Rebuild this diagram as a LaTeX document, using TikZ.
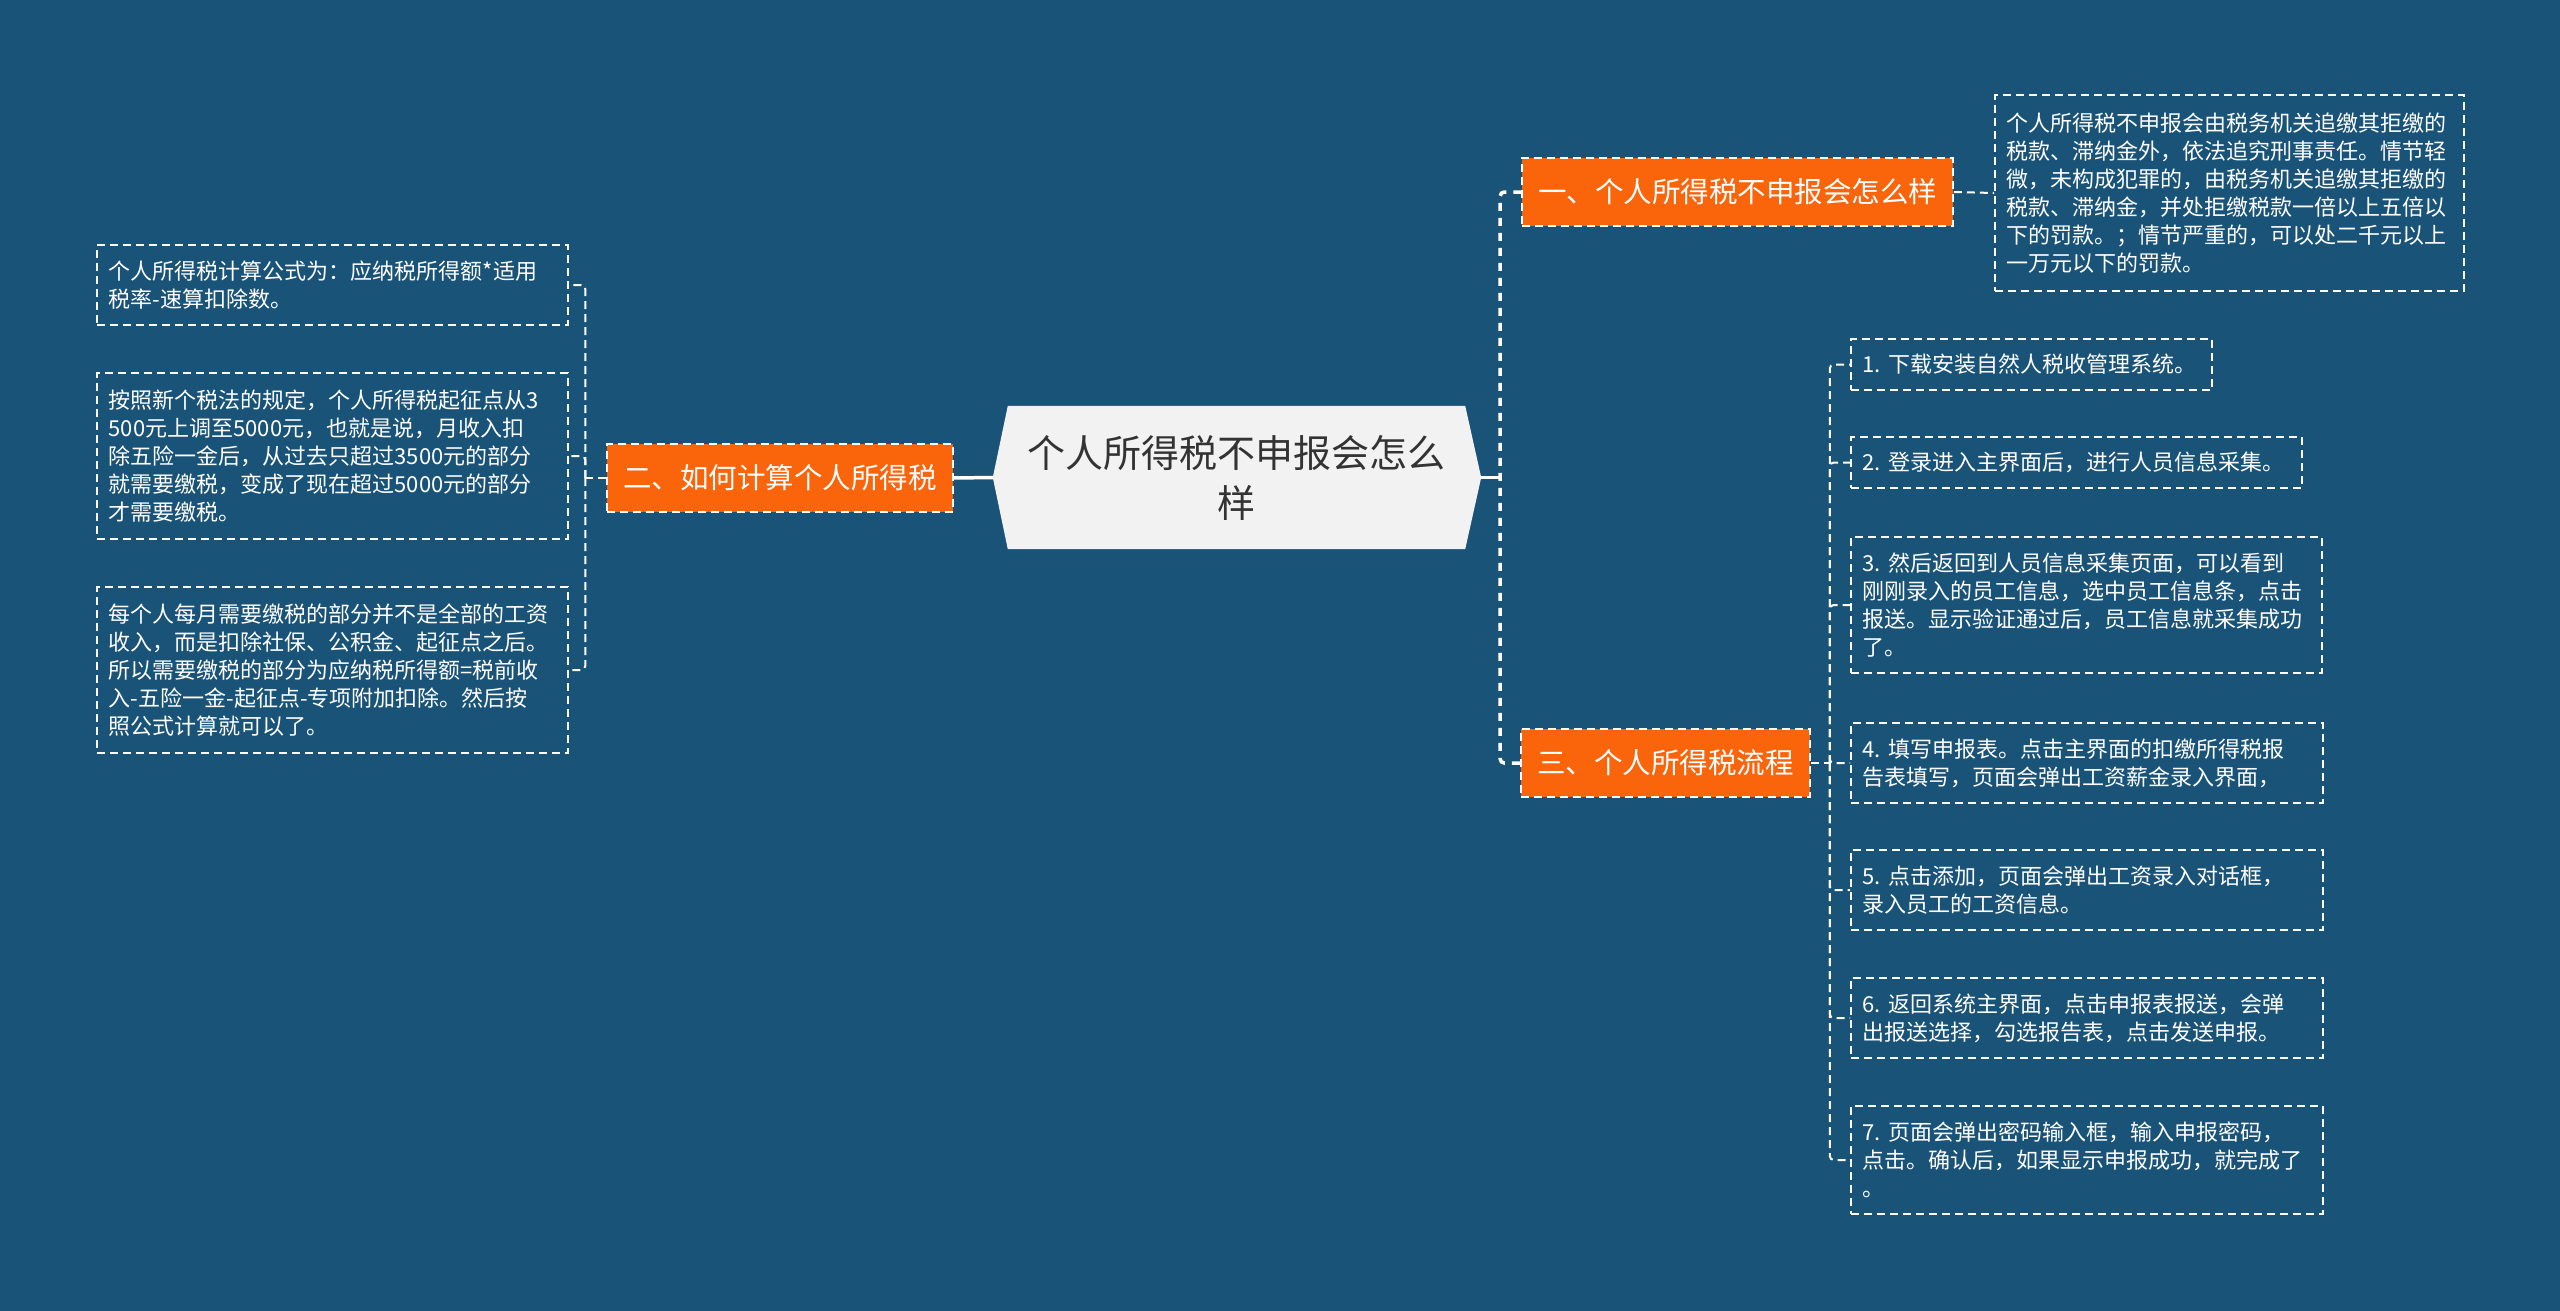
\documentclass[tikz,border=0pt]{standalone}
\usepackage{fontspec}
\setmainfont{Noto Sans CJK SC}
\usetikzlibrary{positioning, backgrounds}
\definecolor{bgblue}{HTML}{1A5378}
\definecolor{topicorange}{HTML}{FA640A}
\definecolor{rootgray}{HTML}{F2F2F2}
\definecolor{roottext}{HTML}{333333}

\begin{document}
\begin{tikzpicture}[x=1pt, y=-1pt,
    root/.style={rectangle, minimum width=457pt, minimum height=143pt, align=center,
                 text=roottext, font=\fontsize{38}{50}\selectfont},
    topic/.style={rectangle, draw=white, dash pattern=on 8pt off 5pt, line width=1.5pt,
                  fill=topicorange, text=white, minimum height=68pt,
                  font=\fontsize{28.5}{34}\selectfont},
    leaf/.style={rectangle, draw=white, dash pattern=on 8pt off 5pt, line width=1.5pt,
                 text=white, align=left, anchor=west, inner xsep=12pt,
                 font=\fontsize{22}{28}\selectfont\frenchspacing},
    trunk/.style={draw=white, line width=3.5pt},
    trunkdash/.style={trunk, dash pattern=on 8pt off 7pt, rounded corners=4pt},
    branch/.style={draw=white, line width=2pt, dash pattern=on 8pt off 5pt, rounded corners=4pt}
]
\useasboundingbox (0,0) rectangle (2560,1311);
\begin{scope}[on background layer]
\fill[bgblue] (0,0) rectangle (2560,1311);
\end{scope}

% central topic
\node[root] (root) at (1236.5,477.5) {个人所得税不申报会怎么\\样};
\coordinate (rootL) at ([xshift=-15pt]root.west);
\coordinate (rootR) at ([xshift=16pt]root.east);
\begin{scope}[on background layer]
\fill[rootgray] (root.north west) -- (root.north east) -- (rootR) -- (root.south east)
    -- (root.south west) -- (rootL) -- cycle;
\end{scope}

% main branches
\node[topic, minimum width=431pt] (howlike) at (1737.5,192) {一、个人所得税不申报会怎么样};
\node[topic, minimum width=346pt] (calc)    at (780,478)    {二、如何计算个人所得税};
\node[topic, minimum width=289pt] (flow)    at (1665.5,763) {三、个人所得税流程};

% details
\node[leaf, text width=445pt, minimum height=196pt] (penalty) at (1994,193)
    {个人所得税不申报会由税务机关追缴其拒缴的\\税款、滞纳金外，依法追究刑事责任。情节轻\\微，未构成犯罪的，由税务机关追缴其拒缴的\\税款、滞纳金，并处拒缴税款一倍以上五倍以\\下的罚款。；情节严重的，可以处二千元以上\\一万元以下的罚款。};

\node[leaf, text width=447pt, minimum height=80pt] (formula) at (96,285)
    {个人所得税计算公式为：应纳税所得额*适用\\税率-速算扣除数。};
\node[leaf, text width=447pt, minimum height=166pt] (threshold) at (96,456)
    {按照新个税法的规定，个人所得税起征点从3\\500元上调至5000元，也就是说，月收入扣\\除五险一金后，从过去只超过3500元的部分\\就需要缴税，变成了现在超过5000元的部分\\才需要缴税。};
\node[leaf, text width=447pt, minimum height=166pt] (taxable) at (96,670)
    {每个人每月需要缴税的部分并不是全部的工资\\收入，而是扣除社保、公积金、起征点之后。\\所以需要缴税的部分为应纳税所得额=税前收\\入-五险一金-起征点-专项附加扣除。然后按\\照公式计算就可以了。};

\node[leaf, text width=337pt, minimum height=51pt] (step1) at (1850,364.5)
    {1.~下载安装自然人税收管理系统。};
\node[leaf, text width=427pt, minimum height=51pt] (step2) at (1850,462.5)
    {2.~登录进入主界面后，进行人员信息采集。};
\node[leaf, text width=447pt, minimum height=136pt] (step3) at (1850,605)
    {3.~然后返回到人员信息采集页面，可以看到\\刚刚录入的员工信息，选中员工信息条，点击\\报送。显示验证通过后，员工信息就采集成功\\了。};
\node[leaf, text width=448pt, minimum height=80pt] (step4) at (1850,763)
    {4.~填写申报表。点击主界面的扣缴所得税报\\告表填写，页面会弹出工资薪金录入界面，};
\node[leaf, text width=448pt, minimum height=80pt] (step5) at (1850,890)
    {5.~点击添加，页面会弹出工资录入对话框，\\录入员工的工资信息。};
\node[leaf, text width=448pt, minimum height=80pt] (step6) at (1850,1018)
    {6.~返回系统主界面，点击申报表报送，会弹\\出报送选择，勾选报告表，点击发送申报。};
\node[leaf, text width=448pt, minimum height=108pt] (step7) at (1850,1160)
    {7.~页面会弹出密码输入框，输入申报密码，\\点击。确认后，如果显示申报成功，就完成了\\。};

% connectors
\coordinate (rj) at ([xshift=19pt]rootR);
\draw[trunk] (rootL) -- (calc.east);
\draw[trunk] (rootR) -- (rj);
\draw[trunkdash] (howlike.west) -| (rj) |- (flow.west);

\draw[branch] (howlike.east) -- (penalty.west);

\coordinate (lj) at ([xshift=-21pt]calc.west);
\draw[branch] (calc.west) -- (lj);
\draw[branch] (lj) |- (formula.east);
\draw[branch] (lj) |- (threshold.east);
\draw[branch] (lj) |- (taxable.east);

\coordinate (sj) at ([xshift=19pt]flow.east);
\draw[branch] (flow.east) -- (sj);
\foreach \s in {step1,step2,step3,step4,step5,step6,step7}
  \draw[branch] (sj) |- (\s.west);
\end{tikzpicture}
\end{document}
